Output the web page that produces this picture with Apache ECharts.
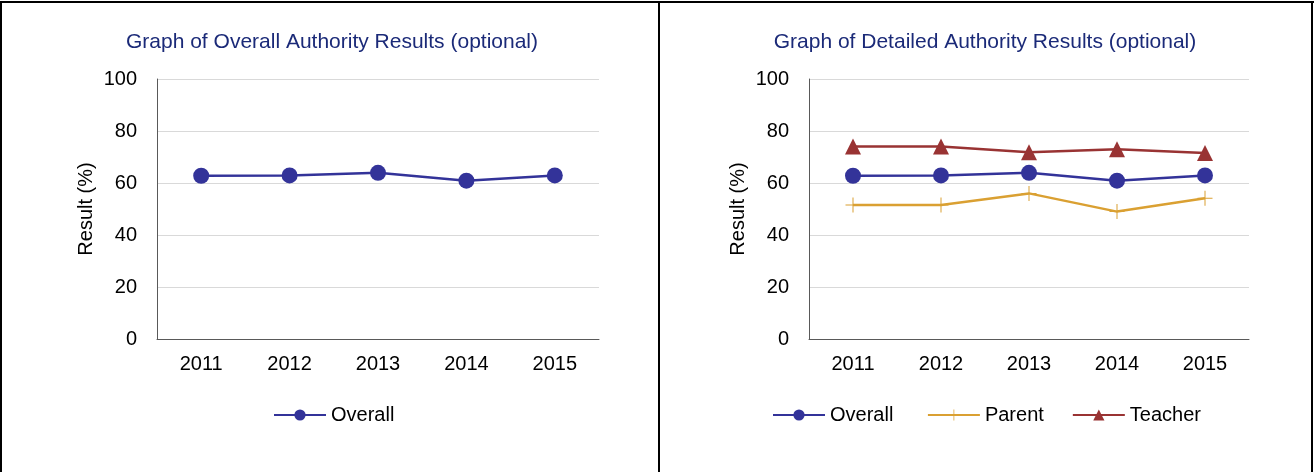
<!DOCTYPE html>
<html>
<head>
<meta charset="utf-8">
<script src="https://cdn.jsdelivr.net/npm/echarts@6/dist/echarts.min.js"></script>
<style>
  body { margin: 0; background: #fff; }
  #wrap { position: relative; width: 1314px; height: 472px; }
  #myChart { position: absolute; left: 0; top: 0; width: 1314px; height: 472px; }
  .edge { position: absolute; background: #000; }
</style>
</head>
<body>
<div id="wrap">
  <div id="myChart"></div>
  <div class="edge" style="left:0;top:1px;width:1314px;height:2px"></div>
  <div class="edge" style="left:0;top:1px;width:2px;height:471px"></div>
  <div class="edge" style="left:658px;top:1px;width:2px;height:471px"></div>
  <div class="edge" style="left:1311px;top:1px;width:2px;height:471px"></div>
</div>
<script>
var years = ['2011', '2012', '2013', '2014', '2015'];
var overall = [62.8, 62.9, 63.9, 60.9, 62.9];
var parent = [51.5, 51.5, 56.0, 49.0, 54.1];
var teacher = [74.0, 74.0, 71.8, 73.0, 71.5];

var font = 'Arial, "Liberation Sans", sans-serif';
var plusPath = 'path://M0,7H15V8H0Z M7,0H8V15H7Z';

function xAxis(idx) {
  return {
    type: 'category', gridIndex: idx, data: years,
    axisLine: { lineStyle: { color: '#595959', width: 1 } },
    axisTick: { show: false },
    axisLabel: { color: '#000', fontSize: 20, fontFamily: font, margin: 15 }
  };
}
function yAxis(idx) {
  return {
    type: 'value', gridIndex: idx, min: 0, max: 100, interval: 20,
    name: 'Result (%)', nameLocation: 'middle', nameGap: 61, nameRotate: 90,
    nameTextStyle: { color: '#000', fontSize: 20, fontFamily: font },
    axisLine: { show: true, lineStyle: { color: '#595959', width: 1 } },
    axisTick: { show: false },
    axisLabel: { color: '#000', fontSize: 20, fontFamily: font, margin: 20 },
    splitLine: { lineStyle: { color: '#d9d9d9', width: 1 } }
  };
}
function line(name, data, idx, color, symbol, size) {
  return {
    name: name, type: 'line', xAxisIndex: idx, yAxisIndex: idx, data: data,
    symbol: symbol, symbolSize: size, showAllSymbol: true,
    lineStyle: { color: color, width: 2.5 },
    itemStyle: { color: color },
    emphasis: { disabled: true },
    animation: false
  };
}

var myChart = echarts.init(document.getElementById('myChart'));
var legendText = { color: '#000', fontSize: 20, fontFamily: font };
var titleText = { color: '#1b2a78', fontSize: 21, fontWeight: 'normal', fontFamily: font };
var option = {
  textStyle: { fontFamily: font },
  title: [
    { text: 'Graph of Overall Authority Results (optional)', left: 327, top: 27, textAlign: 'center', textStyle: titleText },
    { text: 'Graph of Detailed Authority Results (optional)', left: 980, top: 27, textAlign: 'center', textStyle: titleText }
  ],
  legend: [
    { data: ['Overall'], left: 268, top: 400, itemWidth: 52, itemHeight: 14, itemGap: 28, textStyle: legendText },
    { data: ['Overall ', 'Parent', 'Teacher'], left: 767, top: 400, itemWidth: 52, itemHeight: 14, itemGap: 28, textStyle: legendText }
  ],
  grid: [
    { left: 157, top: 79, width: 442, height: 260 },
    { left: 809, top: 79, width: 440, height: 260 }
  ],
  xAxis: [xAxis(0), xAxis(1)],
  yAxis: [yAxis(0), yAxis(1)],
  series: [
    line('Overall', overall, 0, '#333399', 'circle', 16),
    line('Overall ', overall, 1, '#333399', 'circle', 16),
    line('Parent', parent, 1, '#daa032', plusPath, 15),
    line('Teacher', teacher, 1, '#993333', 'triangle', 16)
  ]
};
myChart.setOption(option);
</script>
</body>
</html>
